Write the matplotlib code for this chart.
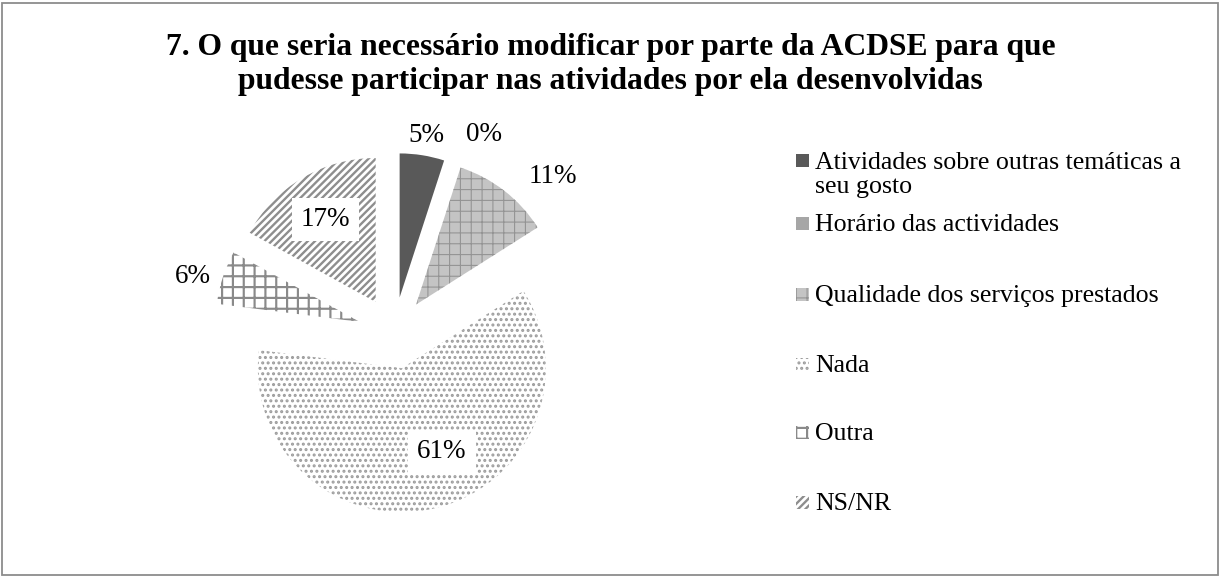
import matplotlib
matplotlib.use("Agg")
import matplotlib.pyplot as plt
import matplotlib.patches as mpatches
import numpy as np

plt.rcParams['font.family'] = ['Liberation Serif', 'DejaVu Serif']

titulo = "7. O que seria necessário modificar por parte da ACDSE para que\npudesse participar nas atividades por ela desenvolvidas"
categorias = ["Atividades sobre outras temáticas a\nseu gosto",
              "Horário das actividades",
              "Qualidade dos serviços prestados",
              "Nada",
              "Outra",
              "NS/NR"]
valores = [5, 0, 11, 61, 6, 17]
rotulos = ["5%", "0%", "11%", "61%", "6%", "17%"]

# aparência de cada fatia: (cor de fundo, cor do padrão, padrão, espessura)
estilos = [("#595959", "none", None, 0),
           ("#a6a6a6", "none", None, 0),
           ("#c4c4c4", "#939393", "++", 0.6),
           ("white", "#9c9c9c", "....", 1.1),
           ("white", "#8a8a8a", "++", 1.2),
           ("white", "#8e8e8e", "//////", 1.3)]

# posição dos rótulos: distância (em raios) e ajuste do ângulo (graus)
dist_rot = [1.39, 1.51, 1.55, 0.89, 1.45, 0.92]
ajuste_ang = [0.2, 6.4, 7.6, -9.4, -2.4, -0.6]
caixa_rot = [False, False, False, True, False, True]

W, H, DPI = 1221, 577, 130
R = 144.0
cx, cy = 394, 333

fig = plt.figure(figsize=(W / DPI, H / DPI), dpi=DPI)
ax = fig.add_axes([0, 0, 1, 1])

wedges, _ = ax.pie(valores, startangle=90, counterclock=False,
                   explode=[0.25] * len(valores), radius=1,
                   wedgeprops=dict(linewidth=0))


def padrao(p, fc, hc, hatch, hlw):
    p.set_facecolor(fc)
    p.set_edgecolor(hc)
    p.set_linewidth(0)
    if hatch:
        p.set_hatch(hatch)
        try:
            p.set_hatch_linewidth(hlw)
        except AttributeError:
            p._hatch_linewidth = hlw


for w, est in zip(wedges, estilos):
    padrao(w, *est)

ax.set_xlim(-cx / R, (W - cx) / R)
ax.set_ylim(-(H - cy) / R, cy / R)
ax.set_aspect('auto')
ax.axis('off')

# rótulos de percentagem
acum = np.cumsum([0] + valores[:-1])
total = sum(valores)
for i, v in enumerate(valores):
    meio = (acum[i] + v / 2) / total * 360 + ajuste_ang[i]
    ang = np.deg2rad(90 - meio)
    x = dist_rot[i] * np.cos(ang)
    y = dist_rot[i] * np.sin(ang)
    kw = {}
    if caixa_rot[i]:
        kw['bbox'] = dict(facecolor='white', edgecolor='none', pad=5)
    ax.text(x, y, rotulos[i], ha='center', va='center', fontsize=15,
            color='black', **kw)

fig.text(0.5, 1 - 33 / H, titulo, ha='center', va='top', fontsize=17.5,
         fontweight='bold', linespacing=1.22)

# legenda desenhada à mão (linha de base da primeira linha de cada item)
base_leg = [168, 231, 302, 372, 440, 510]
for i, (lab, est) in enumerate(zip(categorias, estilos)):
    yb = base_leg[i]
    quad = mpatches.Rectangle((796 / W, 1 - (yb - 1) / H), 13 / W, 13 / H,
                              transform=fig.transFigure)
    padrao(quad, *est)
    fig.patches.append(quad)
    n_linhas = lab.count("\n")
    fig.text(815 / W, 1 - (yb + 25 * n_linhas) / H, lab, ha='left',
             va='baseline', fontsize=14.3, linespacing=1.12)

fig.patches.append(mpatches.Rectangle((2 / W, 2 / H), (W - 5) / W, (H - 5) / H,
                                      transform=fig.transFigure, fill=False,
                                      edgecolor='#8c8c8c', linewidth=1.0))

fig.savefig("out.png", dpi=DPI)
